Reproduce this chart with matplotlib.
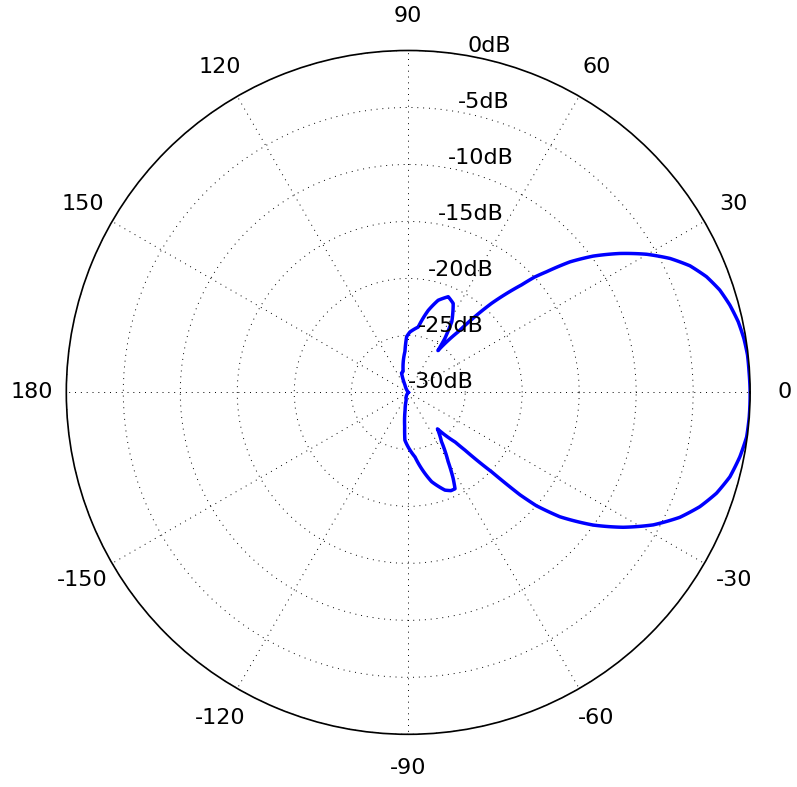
import numpy as np
import matplotlib
matplotlib.use("Agg")
import matplotlib.pyplot as plt

# Pattern (angle in degrees, level in dB)
angle_deg = [-180, -130, -105, -100, -96, -94, -90, -84, -78.4, -75.3, -69.4, -66.5,
             -64.1, -62.4, -60.0, -55.9, -51.3, -46.6, -45.5, -43.6, -42.5, -41.5,
             -39.35, -35.65, -32.1, -28.4, -24.7, -21.4, -18.1, -14.7, -11.0, -7.5,
             -4.1, 0, 3.5, 6.3, 9.1, 12.1, 15.2, 18.2, 21.2, 24.2, 27.1, 30.1, 33.3,
             36.4, 38.9, 41.1, 42.4, 43.5, 46.9, 50.5, 54.6, 55.8, 58.4, 63.2, 67.3,
             72.0, 76.3, 81.3, 88.4, 91.6, 94.6, 103.6, 109, 114, 125, 180]
level_db = [-30.0, -30.0, -29.3, -28.4, -27.0, -25.8, -25.2, -24.3, -22.75, -21.9, -20.84, -20.6,
            -20.6, -21.5, -23.0, -24.8, -25.9, -24.0, -22.9, -19.9, -16.7, -15.0,
            -12.79, -10.03, -7.73, -5.56, -3.77, -2.52, -1.54, -0.82, -0.36, -0.05,
            0.0, 0.0, -0.04, -0.05, -0.17, -0.39, -0.76, -1.23, -1.93, -2.9, -4.2, -5.83, -7.8,
            -9.85, -11.76, -13.9, -15.0, -16.3, -19.3, -23.1, -25.5, -24.3, -22.7, -21.25, -20.9,
            -21.5, -22.6, -24.2, -24.7, -25.1, -26.4, -28.1, -28.2, -29.3, -30.0, -30.0]

r_ticks = [-30, -25, -20, -15, -10, -5, 0]
r_labels = ["-30dB", "-25dB", "-20dB", "-15dB", "-10dB", "-5dB", "0dB"]
theta_ticks = [0, 30, 60, 90, 120, 150, 180, 210, 240, 270, 300, 330]
theta_labels = ["0", "30", "60", "90", "120", "150", "180", "-150", "-120", "-90", "-60", "-30"]

fig = plt.figure(figsize=(7.97, 7.87), dpi=100)
ax = fig.add_axes([0.0832, 0.0669, 0.858, 0.869], projection="polar")

line, = ax.plot(np.deg2rad(angle_deg), level_db, color="#0000ff", lw=2.5,
                solid_joinstyle="round")
# draw each segment as a curve in polar space
line.get_path()._interpolation_steps = 12

ax.set_rlim(-30, 0)
ax.set_rgrids(r_ticks, labels=[""] * len(r_ticks))
ax.set_thetagrids(theta_ticks, labels=theta_labels, fontsize=16)
ax.tick_params(axis="x", pad=14)
ax.grid(True, color="black", linestyle=(0, (1, 5)), linewidth=0.7)
ax.spines["polar"].set_linewidth(1.2)

for r, lab in zip(r_ticks, r_labels):
    ax.text(np.deg2rad(80), r, lab, ha="left", va="bottom", fontsize=16)

fig.savefig("out.png", dpi=100)
